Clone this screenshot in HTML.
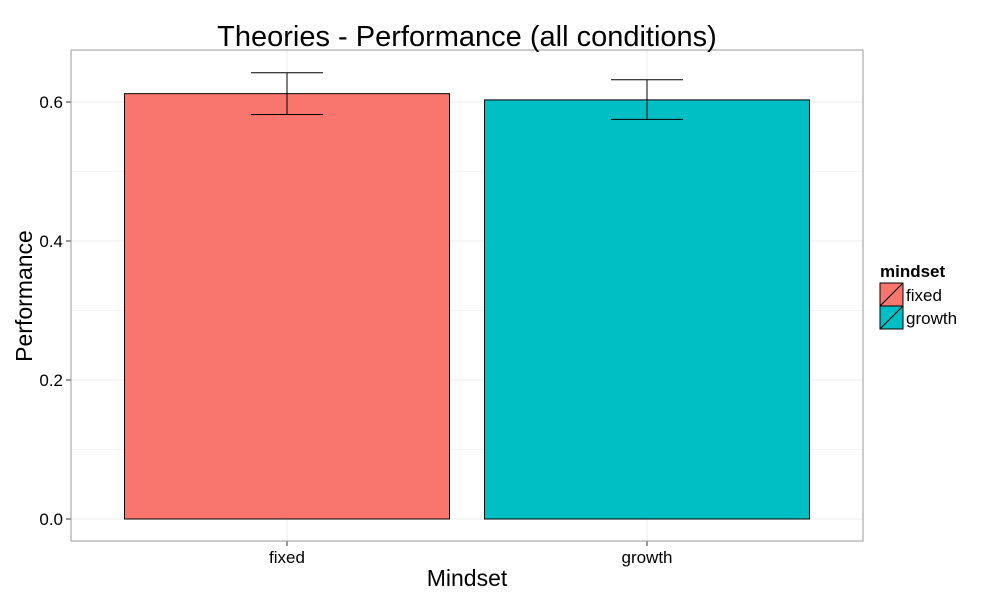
<!DOCTYPE html>
<html><head><meta charset="utf-8"><style>
body{margin:0;background:#fff;}
svg{display:block;font-family:"Liberation Sans",sans-serif;}
</style></head><body>
<svg id="chart" width="1000" height="600"></svg>
<script>
const categories=["fixed","growth"];
const values=[0.612,0.603];
const errLow=[0.582,0.575];
const errHigh=[0.642,0.632];
const colors=["#F8766D","#00BFC4"];
const yTicks=[0,0.2,0.4,0.6];
const yTickLabels=["0.0","0.2","0.4","0.6"];
const NS="http://www.w3.org/2000/svg";
const svg=document.getElementById('chart');
const L=71,R=863,T=50,B=541;
function y(v){return 519-v*(519-102)/0.6;}
function xc(i){return 287+i*360;}
const bw=325;
function el(t,a,txt){const e=document.createElementNS(NS,t);for(const k in a)e.setAttribute(k,a[k]);if(txt!==undefined)e.textContent=txt;svg.appendChild(e);return e;}
let e=el('rect',{x:L,y:T,width:R-L,height:B-T,fill:'#fff',stroke:'none'});

// minor grid
for(let i=0;i<yTicks.length-1;i++){const v=(yTicks[i]+yTicks[i+1])/2;e=el('line',{x1:L,x2:R,y1:y(v),y2:y(v),stroke:'#f5f5f5','stroke-width':1});
}
yTicks.forEach((v,i)=>{e=el('line',{x1:L,x2:R,y1:y(v),y2:y(v),stroke:'#ececec','stroke-width':1});

e=el('line',{x1:L-5,x2:L,y1:y(v),y2:y(v),stroke:'#333'});

e=el('text',{x:L-8,y:y(v)+6,'text-anchor':'end','font-size':17,fill:'#000'},yTickLabels[i]);
});
categories.forEach((c,i)=>{e=el('line',{x1:xc(i),x2:xc(i),y1:T,y2:B,stroke:'#ececec'});
});
categories.forEach((c,i)=>{
e=el('rect',{x:xc(i)-bw/2,y:y(values[i]),width:bw,height:y(0)-y(values[i]),fill:colors[i],stroke:'#000','stroke-width':1});

const g=[[xc(i),y(errLow[i]),xc(i),y(errHigh[i])],[xc(i)-36,y(errLow[i]),xc(i)+36,y(errLow[i])],[xc(i)-36,y(errHigh[i]),xc(i)+36,y(errHigh[i])]];
g.forEach(p=>{e=el('line',{x1:p[0],y1:p[1],x2:p[2],y2:p[3],stroke:'#000','stroke-width':1});
});
e=el('line',{x1:xc(i),x2:xc(i),y1:B,y2:B+5,stroke:'#333'});

e=el('text',{x:xc(i),y:563,'text-anchor':'middle','font-size':17,fill:'#000'},c);

e=el('rect',{x:880,y:283+i*23,width:23,height:23,fill:colors[i],stroke:'#000'});

e=el('line',{x1:880,y1:306+i*23,x2:903,y2:283+i*23,stroke:'#000'});

e=el('text',{x:906,y:301+i*23,'font-size':17,fill:'#000'},c);

});
e=el('rect',{x:L,y:T,width:R-L,height:B-T,fill:'none',stroke:'#999'});

e=el('text',{x:467,y:46,'text-anchor':'middle','font-size':29,fill:'#000'},'Theories - Performance (all conditions)');

e=el('text',{x:467,y:586,'text-anchor':'middle','font-size':23,fill:'#000'},'Mindset');

e=el('text',{x:0,y:0,'text-anchor':'middle','font-size':23,fill:'#000',transform:'translate(32,296) rotate(-90)'},'Performance');

e=el('text',{x:880,y:277,'font-size':17,'font-weight':'bold',fill:'#000'},'mindset');

</script>
</body></html>
